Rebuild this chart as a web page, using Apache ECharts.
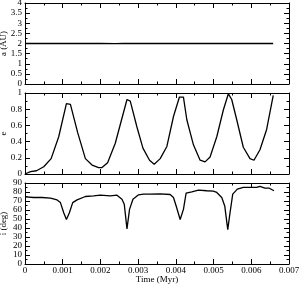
<!DOCTYPE html>
<html><head><meta charset="utf-8">
<script src="https://cdn.jsdelivr.net/npm/echarts@6/dist/echarts.min.js"></script>
<style>html,body{margin:0;padding:0;background:#fff}#c{width:299px;height:286px}</style>
</head><body><div id="c"></div>
<script>
// time in units of 0.001 Myr
var timeA = [0, 1, 2, 2.4, 2.6, 3, 4, 5, 6, 6.58];
var aVals = [2, 2, 2, 1.99, 2, 2, 2, 2, 2, 2];
var timeE = [0, 0.146, 0.304, 0.497, 0.693, 0.894, 1.098, 1.204, 1.397, 1.601, 1.778, 1.952, 2.042, 2.19, 2.394, 2.704, 2.791, 2.968, 3.127, 3.302, 3.426, 3.585, 3.762, 3.937, 4.095, 4.201, 4.291, 4.466, 4.643, 4.775, 4.907, 5.085, 5.259, 5.392, 5.481, 5.614, 5.788, 5.966, 6.071, 6.230, 6.407, 6.582];
var eVals = [0, 0.03, 0.04, 0.09, 0.19, 0.46, 0.87, 0.86, 0.51, 0.19, 0.11, 0.078, 0.08, 0.14, 0.38, 0.92, 0.9, 0.58, 0.32, 0.17, 0.12, 0.19, 0.34, 0.71, 0.95, 0.95, 0.67, 0.36, 0.17, 0.15, 0.21, 0.46, 0.79, 0.99, 0.92, 0.67, 0.33, 0.19, 0.17, 0.3, 0.55, 0.97];
var timeI = [0.013, 0.233, 0.455, 0.675, 0.851, 0.939, 1.027, 1.098, 1.177, 1.265, 1.381, 1.601, 1.82, 1.997, 2.262, 2.439, 2.571, 2.632, 2.704, 2.772, 2.862, 3.011, 3.143, 3.302, 3.585, 3.849, 3.937, 4.008, 4.114, 4.201, 4.272, 4.423, 4.598, 4.82, 4.995, 5.085, 5.217, 5.296, 5.376, 5.437, 5.508, 5.63, 5.788, 5.966, 6.143, 6.23, 6.362, 6.468, 6.513, 6.601];
var iVals = [74.6, 73.9, 73.9, 73.1, 71.2, 68.2, 57, 49.5, 57, 68.2, 71.2, 75, 75.7, 76.5, 75.7, 76.5, 72, 66.4, 39, 60.7, 72, 76.9, 77.6, 77.6, 78, 77.2, 73.9, 64.5, 49.5, 60.7, 78.7, 80.2, 82.1, 81.4, 81, 79.5, 73.9, 64.5, 38.2, 57, 77.6, 83.2, 85.1, 85.1, 85.1, 86.2, 84.4, 84.4, 86.2, 81.4];
var xTickLabels = ['0', '0.001', '0.002', '0.003', '0.004', '0.005', '0.006', '0.007'];
var yNames = ['a (AU)', 'e', 'i (deg)'];
var yRanges = [[0, 4, 0.5], [0, 1, 0.2], [0, 90, 10]];

function pairs(t, v) { return t.map(function (x, k) { return [x * 0.001, v[k]]; }); }

var font = 'Liberation Serif';
var fs = 9;
var tops = [3, 93, 183];
var grids = [], xAxes = [], yAxes = [], series = [];
var datas = [pairs(timeA, aVals), pairs(timeE, eVals), pairs(timeI, iVals)];
for (var g = 0; g < 3; g++) {
  grids.push({ left: 25, right: 10, top: tops[g], height: 81, containLabel: false, outerBoundsMode: 'none' });
  [['bottom', g === 2], ['top', false]].forEach(function (p) {
    xAxes.push({
      type: 'value', gridIndex: g, position: p[0], min: 0, max: 0.007, interval: 0.001,
      axisLine: { show: true, onZero: false, lineStyle: { color: '#000', width: 1 } },
      axisTick: { show: true, inside: true, length: 5, lineStyle: { color: '#000' } },
      minorTick: { show: true, splitNumber: 2, length: 2.5, lineStyle: { color: '#000' } },
      splitLine: { show: false },
      axisLabel: {
        show: p[1], color: '#000', fontFamily: font, fontSize: fs, margin: 2,
        hideOverlap: false, showMinLabel: true, showMaxLabel: true,
        formatter: function (v) { return xTickLabels[Math.round(v / 0.001)]; }
      },
      name: p[1] ? 'Time (Myr)' : '', nameLocation: 'middle', nameGap: 11, nameMoveOverlap: false,
      nameTextStyle: { color: '#000', fontFamily: font, fontSize: fs }
    });
  });
  [['left', true], ['right', false]].forEach(function (p) {
    var r = yRanges[g];
    yAxes.push({
      type: 'value', gridIndex: g, position: p[0], min: r[0], max: r[1], interval: r[2],
      axisLine: { show: true, onZero: false, lineStyle: { color: '#000', width: 1 } },
      axisTick: { show: true, inside: true, length: 5, lineStyle: { color: '#000' } },
      minorTick: { show: true, splitNumber: 2, length: 2.5, lineStyle: { color: '#000' } },
      splitLine: { show: false },
      axisLabel: { show: p[1], color: '#000', fontFamily: font, fontSize: fs, lineHeight: 7, margin: 3,
        hideOverlap: false, showMinLabel: true, showMaxLabel: true },
      name: p[1] ? yNames[g] : '', nameLocation: 'middle', nameGap: 17, nameMoveOverlap: false,
      nameTextStyle: { color: '#000', fontFamily: font, fontSize: fs }
    });
  });
  series.push({
    type: 'line', xAxisIndex: g * 2, yAxisIndex: g * 2, data: datas[g],
    showSymbol: false, symbol: 'none', lineStyle: { color: '#000', width: 1.3 }, animation: false
  });
}

var chart = echarts.init(document.getElementById('c'), null, { renderer: 'canvas' });
chart.setOption({ animation: false, grid: grids, xAxis: xAxes, yAxis: yAxes, series: series });
</script></body></html>
